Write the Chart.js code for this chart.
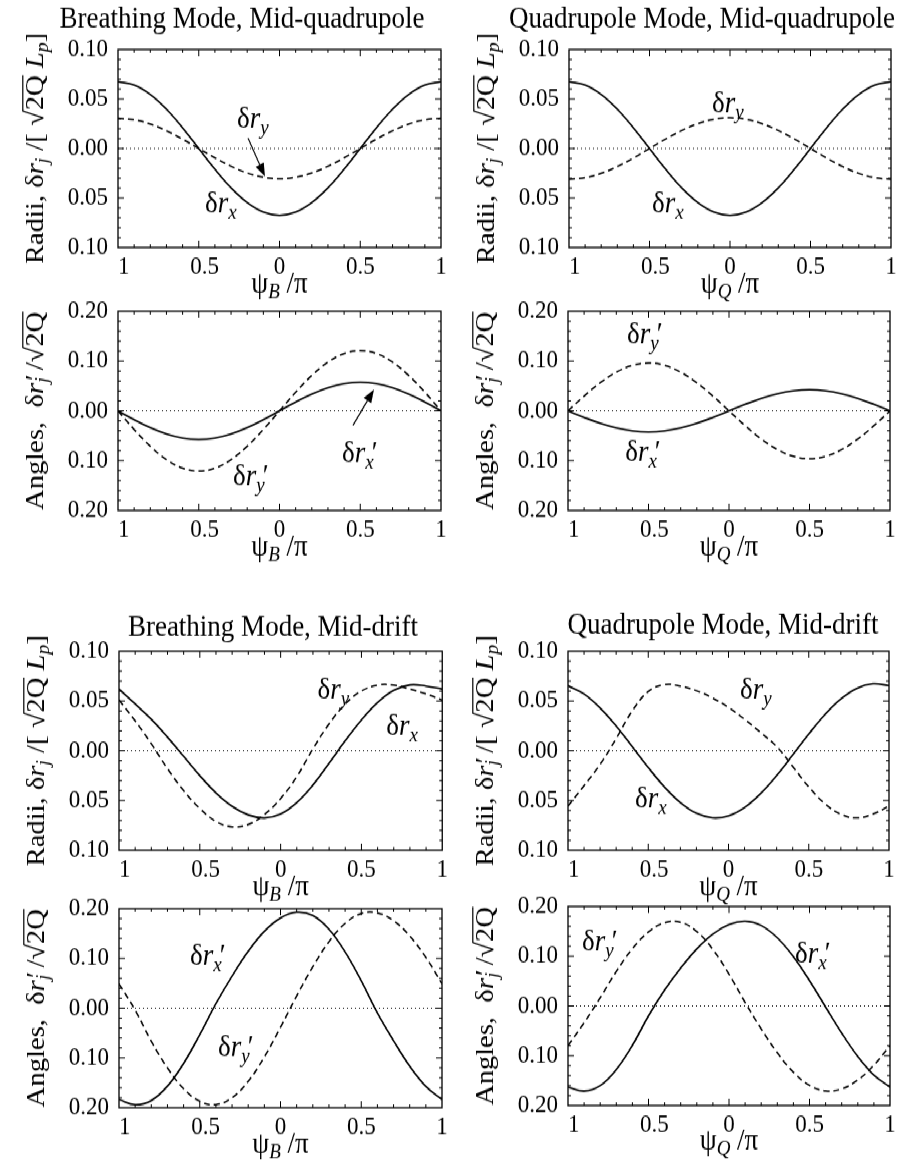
<!DOCTYPE html>
<html>
<head>
<meta charset="utf-8">
<script src="https://cdn.jsdelivr.net/npm/chart.js@4.4.0/dist/chart.umd.min.js"></script>
<style>
  html, body { margin: 0; padding: 0; background: #fff; }
  /* the figure is a little taller than its lettering, so stretch the whole page */
  #page { position: absolute; left: 0; top: 0; width: 904px; height: 1055px;
          transform: scaleY(1.1); transform-origin: 0 0; }
  .panel { position: absolute; }
</style>
</head>
<body>
<div id="page"></div>
<script>
const STRETCH = 1.1;

// phase, in units of pi
const psi = [-1, -0.9, -0.8, -0.7, -0.6, -0.5, -0.4, -0.3, -0.2, -0.1, 0,
             0.1, 0.2, 0.3, 0.4, 0.5, 0.6, 0.7, 0.8, 0.9, 1];
const psiEnds = [-1, 1];
const zeroRef = [0, 0];

// tick labels as printed (the minus signs are lost in the original)
const xTickLabels = ['1', '0.5', '0', '0.5', '1'];
const radiiTickLabels = ['0.10', '0.05', '0.00', '0.05', '0.10'];
const angleTickLabels = ['0.20', '0.10', '0.00', '0.10', '0.20'];

// Breathing mode, mid-quadrupole
const bqRx = [0.0675, 0.0642, 0.0546, 0.0397, 0.0209, 0, -0.0209, -0.0397, -0.0546, -0.0642, -0.0675,
              -0.0642, -0.0546, -0.0397, -0.0209, 0, 0.0209, 0.0397, 0.0546, 0.0642, 0.0675];
const bqRy = [0.0305, 0.029, 0.0247, 0.0179, 0.0094, 0, -0.0094, -0.0179, -0.0247, -0.029, -0.0305,
              -0.029, -0.0247, -0.0179, -0.0094, 0, 0.0094, 0.0179, 0.0247, 0.029, 0.0305];
const bqAx = [0, -0.0178, -0.0338, -0.0465, -0.0547, -0.0575, -0.0547, -0.0465, -0.0338, -0.0178, 0,
              0.0178, 0.0338, 0.0465, 0.0547, 0.0575, 0.0547, 0.0465, 0.0338, 0.0178, 0];
const bqAy = [0, -0.0374, -0.0711, -0.0979, -0.1151, -0.121, -0.1151, -0.0979, -0.0711, -0.0374, 0,
              0.0374, 0.0711, 0.0979, 0.1151, 0.121, 0.1151, 0.0979, 0.0711, 0.0374, 0];

// Quadrupole mode, mid-quadrupole
const qqRx = [0.0675, 0.0642, 0.0546, 0.0397, 0.0209, 0, -0.0209, -0.0397, -0.0546, -0.0642, -0.0675,
              -0.0642, -0.0546, -0.0397, -0.0209, 0, 0.0209, 0.0397, 0.0546, 0.0642, 0.0675];
const qqRy = [-0.031, -0.0295, -0.0251, -0.0182, -0.0096, 0, 0.0096, 0.0182, 0.0251, 0.0295, 0.031,
              0.0295, 0.0251, 0.0182, 0.0096, 0, -0.0096, -0.0182, -0.0251, -0.0295, -0.031];
const qqAx = [0, -0.0131, -0.025, -0.0344, -0.0404, -0.0425, -0.0404, -0.0344, -0.025, -0.0131, 0,
              0.0131, 0.025, 0.0344, 0.0404, 0.0425, 0.0404, 0.0344, 0.025, 0.0131, 0];
const qqAy = [0, 0.0297, 0.0564, 0.0777, 0.0913, 0.096, 0.0913, 0.0777, 0.0564, 0.0297, 0,
              -0.0297, -0.0564, -0.0777, -0.0913, -0.096, -0.0913, -0.0777, -0.0564, -0.0297, 0];

// Breathing mode, mid-drift
const bdRx = [0.062, 0.047, 0.0316, 0.0137, -0.0056, -0.025, -0.0423, -0.0558, -0.0645, -0.0675, -0.0635,
              -0.052, -0.0344, -0.0125, 0.0101, 0.031, 0.0485, 0.0607, 0.0662, 0.065, 0.062];
const bdRy = [0.051, 0.03, 0.007, -0.018, -0.04, -0.058, -0.071, -0.0765, -0.074, -0.064, -0.048,
              -0.026, 0.002, 0.027, 0.047, 0.06, 0.066, 0.066, 0.062, 0.057, 0.051];
const bdAx = [-0.1835, -0.1939, -0.1855, -0.1567, -0.111, -0.0532, 0.009, 0.0644, 0.1142, 0.1543, 0.1812,
              0.1927, 0.186, 0.1585, 0.113, 0.0548, -0.0097, -0.0654, -0.1164, -0.157, -0.1835];
const bdAy = [0.049, -0.004, -0.0664, -0.12, -0.1618, -0.1871, -0.1937, -0.18, -0.1469, -0.098, -0.0384,
              0.0245, 0.0831, 0.1334, 0.1702, 0.1902, 0.1913, 0.1756, 0.145, 0.102, 0.049];

// Quadrupole mode, mid-drift
const qdRx = [0.0654, 0.057, 0.043, 0.0249, 0.0042, -0.0168, -0.0362, -0.052, -0.0628, -0.0674, -0.0654,
              -0.057, -0.043, -0.0249, -0.0042, 0.0168, 0.0362, 0.052, 0.0628, 0.0674, 0.0654];
const qdRy = [-0.0555, -0.035, -0.0137, 0.0122, 0.04, 0.0595, 0.0665, 0.065, 0.0604, 0.0531, 0.0434,
              0.0316, 0.0183, 0.0043, -0.0157, -0.0363, -0.053, -0.0638, -0.0675, -0.0636, -0.0555];
const qdAx = [-0.163, -0.171, -0.16, -0.1277, -0.079, -0.02, 0.0319, 0.0762, 0.1147, 0.1446, 0.1635,
              0.17, 0.1616, 0.137, 0.099, 0.0508, -0.0021, -0.0545, -0.1015, -0.139, -0.163];
const qdAy = [-0.0797, -0.0338, 0.0165, 0.0693, 0.115, 0.1487, 0.1672, 0.168, 0.1495, 0.1133, 0.0639,
              0.0071, -0.046, -0.094, -0.133, -0.1595, -0.1707, -0.1665, -0.1488, -0.119, -0.0797];

// panel frames in page pixels, plus text placement
const panels = [
  { col: 0, l: 118, r: 441, t: 49, b: 248, kind: 'radii', mode: 'B', primeY: false,
    title: 'Breathing Mode, Mid-quadrupole', titleX: 242, titleY: 27,
    solid: bqRx, dashed: bqRy,
    notes: [{ x: -0.263, y: 0.0206, sub: 'y' }, { x: -0.461, y: -0.0648, sub: 'x' }],
    arrow: [-0.195, 0.0105, -0.09, -0.0283] },
  { col: 1, l: 569, r: 891, t: 49, b: 248, kind: 'radii', mode: 'Q', primeY: false,
    title: 'Quadrupole Mode, Mid-quadrupole', titleX: 702, titleY: 27,
    solid: qqRx, dashed: qqRy,
    notes: [{ x: -0.112, y: 0.0367, sub: 'y' }, { x: -0.484, y: -0.0648, sub: 'x' }] },
  { col: 0, l: 118, r: 441, t: 311, b: 510, kind: 'angles', mode: 'B',
    solid: bqAx, dashed: bqAy,
    notes: [{ x: 0.387, y: -0.1035, sub: 'x', prime: true }, { x: -0.288, y: -0.15, sub: 'y', prime: true }],
    arrow: [0.455, -0.029, 0.585, 0.043] },
  { col: 1, l: 568, r: 890, t: 311, b: 510, kind: 'angles', mode: 'Q',
    solid: qqAx, dashed: qqAy,
    notes: [{ x: -0.633, y: 0.135, sub: 'y', prime: true }, { x: -0.645, y: -0.0995, sub: 'x', prime: true }] },
  { col: 0, l: 119, r: 443, t: 651, b: 850, kind: 'radii', mode: 'B', primeY: false,
    title: 'Breathing Mode, Mid-drift', titleX: 273, titleY: 636,
    solid: bdRx, dashed: bdRy,
    notes: [{ x: 0.228, y: 0.0528, sub: 'y' }, { x: 0.654, y: 0.0156, sub: 'x' }] },
  { col: 1, l: 568, r: 889, t: 651, b: 850, kind: 'radii', mode: 'Q', primeY: true,
    title: 'Quadrupole Mode, Mid-drift', titleX: 723, titleY: 634,
    solid: qdRx, dashed: qdRy,
    notes: [{ x: 0.072, y: 0.0528, sub: 'y' }, { x: -0.583, y: -0.0565, sub: 'x' }] },
  { col: 0, l: 119, r: 442, t: 909, b: 1108, kind: 'angles', mode: 'B',
    solid: bdAx, dashed: bdAy,
    notes: [{ x: -0.56, y: 0.0874, sub: 'x', prime: true }, { x: -0.387, y: -0.097, sub: 'y', prime: true }] },
  { col: 1, l: 568, r: 890, t: 906, b: 1105, kind: 'angles', mode: 'Q',
    solid: qdAx, dashed: qdAy,
    notes: [{ x: -0.913, y: 0.1116, sub: 'y', prime: true }, { x: 0.41, y: 0.088, sub: 'x', prime: true }] },
];

const SERIF = '"Liberation Serif", "Times New Roman", serif';
const fnt = (size, italic) => (italic ? 'italic ' : '') + size + 'px ' + SERIF;

// draw a run of pieces left to right, returns the width
function drawRich(ctx, parts, x, y, measureOnly) {
  let cx = x;
  for (const p of parts) {
    ctx.font = fnt(p.s, p.it);
    const w = ctx.measureText(p.t).width;
    if (!measureOnly) {
      ctx.fillText(p.t, cx + (p.dx || 0), y + (p.dy || 0));
      if (p.over) ctx.fillRect(cx - 1, y - p.s * 0.8, w + 1, 1.2);
    }
    cx += p.adv === undefined ? w : p.adv;
  }
  return cx - x;
}

function yTitleParts(kind, primed) {
  const s = 26, ss = 18;
  const parts = [{ t: kind === 'radii' ? 'Radii, ' : 'Angles,  ', s }, { t: 'δ', s }, { t: 'r', s, it: true }];
  if (primed) parts.push({ t: '′', s, adv: 0, dx: 2 });
  parts.push({ t: 'j', s: ss, it: true, dy: 5 });
  if (kind === 'radii') {
    parts.push({ t: ' /[ ', s }, { t: '√', s }, { t: '2Q', s, over: true }, { t: ' ', s },
               { t: 'L', s, it: true }, { t: 'p', s: ss, it: true, dy: 5 }, { t: ']', s });
  } else {
    parts.push({ t: ' /', s }, { t: '√', s }, { t: '2Q', s, over: true });
  }
  return parts;
}

function noteParts(n) {
  const parts = [{ t: 'δ', s: 27 }, { t: 'r', s: 27, it: true }, { t: n.sub, s: 19, it: true, dy: 6 }];
  if (n.prime) parts.push({ t: '′', s: 27, dx: -2 });
  return parts;
}

function drawArrow(ctx, x0, y0, x1, y1) {
  const ang = Math.atan2(y1 - y0, x1 - x0), len = 12, hw = 4.5;
  const bx = x1 - len * Math.cos(ang), by = y1 - len * Math.sin(ang);
  ctx.beginPath(); ctx.moveTo(x0, y0); ctx.lineTo(bx, by); ctx.stroke();
  ctx.beginPath();
  ctx.moveTo(x1, y1);
  ctx.lineTo(bx + hw * Math.sin(ang), by - hw * Math.cos(ang));
  ctx.lineTo(bx - hw * Math.sin(ang), by + hw * Math.cos(ang));
  ctx.closePath(); ctx.fill();
}

function figurePlugin(p, topInt) {
  return {
    id: 'figure',
    afterDatasetsDraw(chart) {
      const { ctx, chartArea: a, scales: { x, y } } = chart;
      const colLeft = p.col * 452;
      ctx.save();
      ctx.strokeStyle = '#000';
      ctx.fillStyle = '#000';

      // frame with inward ticks on all four sides
      ctx.lineWidth = 1.3;
      ctx.strokeRect(a.left, a.top, a.right - a.left, a.bottom - a.top);
      ctx.lineWidth = 1;
      ctx.beginPath();
      for (let i = -9; i <= 9; i++) {
        const px = x.getPixelForValue(i / 10), len = i % 5 === 0 ? 6 : 3;
        ctx.moveTo(px, a.bottom); ctx.lineTo(px, a.bottom - len);
        ctx.moveTo(px, a.top); ctx.lineTo(px, a.top + len);
      }
      const minor = p.kind === 'radii' ? 0.01 : 0.02;
      for (let i = -9; i <= 9; i++) {
        const py = y.getPixelForValue(i * minor), len = i % 5 === 0 ? 6 : 3;
        ctx.moveTo(a.left, py); ctx.lineTo(a.left + len, py);
        ctx.moveTo(a.right, py); ctx.lineTo(a.right - len, py);
      }
      ctx.stroke();

      // panel title
      ctx.textBaseline = 'alphabetic';
      if (p.title) {
        ctx.font = fnt(27);
        ctx.textAlign = 'center';
        ctx.fillText(p.title, p.titleX - colLeft, p.titleY / STRETCH - topInt);
        ctx.textAlign = 'left';
      }

      // x axis title
      const xParts = [{ t: 'ψ', s: 27 }, { t: p.mode, s: 19, it: true, dy: 5 }, { t: ' /π', s: 27 }];
      const xw = drawRich(ctx, xParts, 0, 0, true);
      drawRich(ctx, xParts, (a.left + a.right) / 2 - xw / 2, (p.b + 45) / STRETCH - topInt);

      // y axis title, rotated
      const yParts = yTitleParts(p.kind, p.kind === 'angles' || p.primeY);
      const yw = drawRich(ctx, yParts, 0, 0, true);
      ctx.save();
      ctx.translate(a.left - 75, (a.top + a.bottom) / 2 + yw / 2);
      ctx.rotate(-Math.PI / 2);
      drawRich(ctx, yParts, 0, 0);
      ctx.restore();

      // curve labels
      for (const n of p.notes) {
        drawRich(ctx, noteParts(n), x.getPixelForValue(n.x), y.getPixelForValue(n.y));
      }
      if (p.arrow) {
        ctx.lineWidth = 1.1;
        drawArrow(ctx, x.getPixelForValue(p.arrow[0]), y.getPixelForValue(p.arrow[1]),
                  x.getPixelForValue(p.arrow[2]), y.getPixelForValue(p.arrow[3]));
      }
      ctx.restore();
    }
  };
}

const pageEl = document.getElementById('page');
const toPoints = (xs, ys) => xs.map((v, i) => ({ x: v, y: ys[i] }));

panels.forEach((p) => {
  const colLeft = p.col * 452;
  const topInt = Math.round((p.t - 52) / STRETCH);
  const heightInt = Math.round((p.b + 60) / STRETCH) - topInt;
  const areaTop = Math.round(p.t / STRETCH) - topInt;
  const areaBottom = Math.round(p.b / STRETCH) - topInt;

  const div = document.createElement('div');
  div.className = 'panel';
  div.style.left = colLeft + 'px';
  div.style.top = topInt + 'px';
  div.style.width = '452px';
  div.style.height = heightInt + 'px';
  const canvas = document.createElement('canvas');
  div.appendChild(canvas);
  pageEl.appendChild(div);

  const radii = p.kind === 'radii';
  const yLabels = radii ? radiiTickLabels : angleTickLabels;
  const lim = radii ? 0.1 : 0.2;

  new Chart(canvas, {
    type: 'line',
    data: {
      datasets: [
        { data: toPoints(psi, p.solid), borderColor: '#000', borderWidth: 1.6, tension: 0.4 },
        { data: toPoints(psi, p.dashed), borderColor: '#000', borderWidth: 1.5, borderDash: [6, 4], tension: 0.4 },
        { data: toPoints(psiEnds, zeroRef), borderColor: '#111', borderWidth: 1, borderDash: [1, 3], tension: 0 },
      ],
    },
    options: {
      animation: false,
      responsive: true,
      maintainAspectRatio: false,
      elements: { point: { radius: 0 } },
      layout: { padding: { top: areaTop, right: colLeft + 452 - p.r, left: 0, bottom: 0 } },
      plugins: { legend: { display: false }, tooltip: { enabled: false } },
      scales: {
        x: {
          type: 'linear', min: -1, max: 1,
          grid: { display: false, drawTicks: false },
          border: { display: false },
          afterFit: (s) => { s.height = heightInt - areaBottom; },
          ticks: {
            stepSize: 0.5, autoSkip: false, maxRotation: 0, padding: 4, color: '#000',
            font: { family: SERIF, size: 23 },
            // keep the room the lost minus sign took
            callback: (v, i) => (v < 0 ? '\u2002' : '') + xTickLabels[i],
          },
        },
        y: {
          min: -lim, max: lim,
          grid: { display: false, drawTicks: false },
          border: { display: false },
          afterFit: (s) => { s.width = p.l - colLeft; },
          ticks: {
            stepSize: lim / 2, padding: 10, color: '#000',
            font: { family: SERIF, size: 23 },
            callback: (v, i) => yLabels[i],
          },
        },
      },
    },
    plugins: [figurePlugin(p, topInt)],
  });
});
</script>
</body>
</html>
